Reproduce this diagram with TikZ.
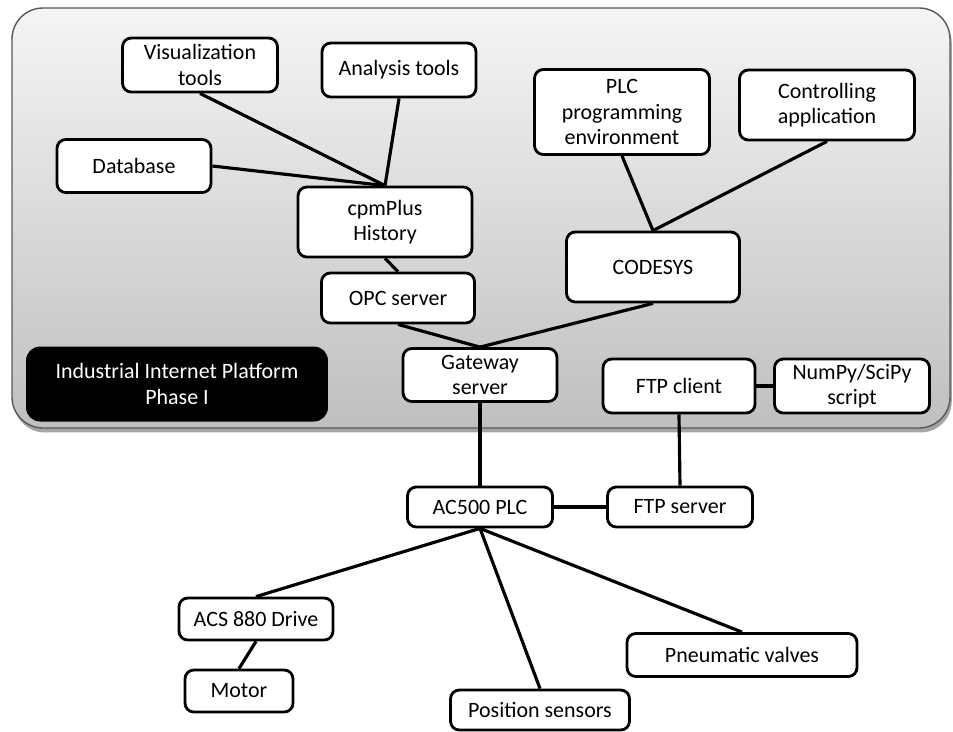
\documentclass[tikz,border=0pt]{standalone}
\usepackage{fontspec}
\setmainfont{Carlito}
\usepackage{tikz}
\usetikzlibrary{positioning,shadows}
\tikzset{
  box/.style={draw=black,fill=white,line width=1.6pt,rounded corners=5pt,
              align=center,inner sep=2pt,font=\fontsize{12.5}{14.6}\selectfont},
  link/.style={line width=1.8pt},
  platform/.style={fill=black,rounded corners=8pt,align=center,
                   text=white,font=\fontsize{12.5}{15}\selectfont},
  panel/.style={draw=black!65,line width=0.8pt,rounded corners=0.62cm,
                top color=black!4,bottom color=black!25,
                drop shadow={shadow xshift=1pt,shadow yshift=-2.5pt,opacity=0.7}},
}

\begin{document}
\begin{tikzpicture}[x=0.02cm,y=-0.02cm]
  \useasboundingbox (0,0) rectangle (953,731);
  \fill[white] (0,0) rectangle (953,731);
  % grey platform area
  \path[panel] (12,8) rectangle (950,428);
  \node[platform,minimum width=6.04cm,minimum height=1.5cm] (phase) at (177,384)
    {Industrial Internet Platform\\Phase I};

  \node[box,minimum width=3.1cm,minimum height=1.08cm] (vis) at (200,65) {Visualization\\tools};
  \node[box,minimum width=3.08cm,minimum height=1.08cm] (ana) at (399,70) {Analysis tools};
  \node[box,minimum width=3.08cm,minimum height=1.06cm] (db) at (134,166) {Database};
  \node[box,minimum width=3.48cm,minimum height=1.4cm] (cpm) at (385,222) {cpmPlus\\History};
  \node[box,minimum width=3.06cm,minimum height=1cm] (opc) at (398,298) {OPC server};
  \node[box,minimum width=3.5cm,minimum height=1.7cm] (prog) at (622,112) {PLC\\programming\\environment};
  \node[box,minimum width=3.5cm,minimum height=1.4cm] (ctrl) at (827,105) {Controlling\\application};
  \node[box,minimum width=3.46cm,minimum height=1.4cm] (codesys) at (653,267) {CODESYS};
  \node[box,minimum width=3.08cm,minimum height=1.06cm] (gw) at (480,375) {Gateway\\server};
  \node[box,minimum width=3.04cm,minimum height=1.08cm] (ftpc) at (679,386) {FTP client};
  \node[box,minimum width=3.1cm,minimum height=1.08cm] (numpy) at (852,386) {NumPy/SciPy\\script};

  \node[box,minimum width=2.9cm,minimum height=0.8cm] (plc) at (480,507) {AC500 PLC};
  \node[box,minimum width=2.9cm,minimum height=0.8cm] (ftps) at (680,507) {FTP server};
  \node[box,minimum width=3.08cm,minimum height=0.84cm] (acs) at (256,619) {ACS 880 Drive};
  \node[box,minimum width=2.16cm,minimum height=0.84cm] (motor) at (239,691) {Motor};
  \node[box,minimum width=3.58cm,minimum height=0.8cm] (pos) at (540,710) {Position sensors};
  \node[box,minimum width=4.6cm,minimum height=0.86cm] (pneu) at (742,655) {Pneumatic valves};

  % connections
  \draw[link] (vis.south) -- (cpm.north);
  \draw[link] (ana.south) -- (cpm.north);
  \draw[link] (db.east) -- (cpm.north);
  \draw[link] (cpm.south) -- (opc.north);
  \draw[link] (opc.south) -- (gw.north);
  \draw[link] (codesys.south) -- (gw.north);
  \draw[link] (prog.south) -- (codesys.north);
  \draw[link] (ctrl.south) -- (codesys.north);
  \draw[link] (ftpc.east) -- (numpy.west);
  \draw[link] (ftpc.south) -- (ftps.north);
  \draw[link] (gw.south) -- (plc.north);
  \draw[link] (plc.east) -- (ftps.west);
  \draw[link] (plc.south) -- (acs.north);
  \draw[link] (plc.south) -- (pos.north);
  \draw[link] (plc.south) -- (pneu.north);
  \draw[link] (acs.south) -- (motor.north);
\end{tikzpicture}
\end{document}
